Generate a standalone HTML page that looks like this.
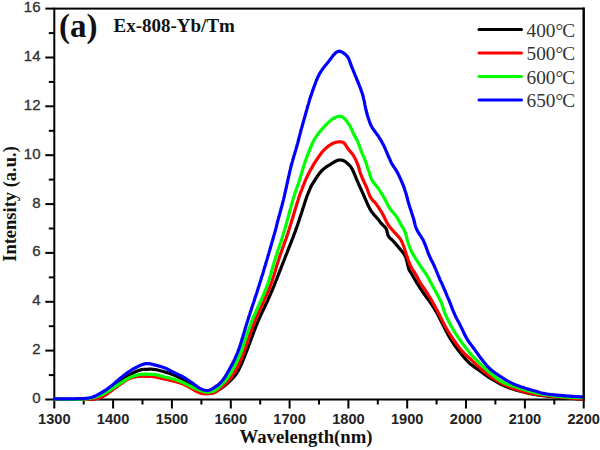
<!DOCTYPE html>
<html><head><meta charset="utf-8"><style>
html,body{margin:0;padding:0;background:#fff;width:600px;height:450px;overflow:hidden}
svg{display:block}
.xt{font-family:"Liberation Sans",sans-serif;font-weight:bold;font-size:14.6px;fill:#222;text-anchor:middle}
.yt{font-family:"Liberation Sans",sans-serif;font-size:15px;fill:#333;stroke:#333;stroke-width:0.35px;text-anchor:end}
.lg{font-family:"Liberation Serif",serif;font-size:19.3px;fill:#333}
.tt{font-family:"Liberation Serif",serif;font-weight:bold;fill:#111}
.cv path{fill:none;stroke-width:3.2;stroke-linejoin:round;stroke-linecap:round}
</style></head><body>
<svg width="600" height="450" viewBox="0 0 600 450">
<rect x="54.3" y="8.6" width="529.4" height="390.9" fill="none" stroke="#000" stroke-width="2"/><line x1="54.3" y1="399.5" x2="54.3" y2="408.5" stroke="#000" stroke-width="2"/><text x="54.3" y="424" class="xt">1300</text><line x1="83.7" y1="399.5" x2="83.7" y2="404.5" stroke="#000" stroke-width="2"/><line x1="113.1" y1="399.5" x2="113.1" y2="408.5" stroke="#000" stroke-width="2"/><text x="113.1" y="424" class="xt">1400</text><line x1="142.5" y1="399.5" x2="142.5" y2="404.5" stroke="#000" stroke-width="2"/><line x1="171.9" y1="399.5" x2="171.9" y2="408.5" stroke="#000" stroke-width="2"/><text x="171.9" y="424" class="xt">1500</text><line x1="201.4" y1="399.5" x2="201.4" y2="404.5" stroke="#000" stroke-width="2"/><line x1="230.8" y1="399.5" x2="230.8" y2="408.5" stroke="#000" stroke-width="2"/><text x="230.8" y="424" class="xt">1600</text><line x1="260.2" y1="399.5" x2="260.2" y2="404.5" stroke="#000" stroke-width="2"/><line x1="289.6" y1="399.5" x2="289.6" y2="408.5" stroke="#000" stroke-width="2"/><text x="289.6" y="424" class="xt">1700</text><line x1="319.0" y1="399.5" x2="319.0" y2="404.5" stroke="#000" stroke-width="2"/><line x1="348.4" y1="399.5" x2="348.4" y2="408.5" stroke="#000" stroke-width="2"/><text x="348.4" y="424" class="xt">1800</text><line x1="377.8" y1="399.5" x2="377.8" y2="404.5" stroke="#000" stroke-width="2"/><line x1="407.2" y1="399.5" x2="407.2" y2="408.5" stroke="#000" stroke-width="2"/><text x="407.2" y="424" class="xt">1900</text><line x1="436.6" y1="399.5" x2="436.6" y2="404.5" stroke="#000" stroke-width="2"/><line x1="466.0" y1="399.5" x2="466.0" y2="408.5" stroke="#000" stroke-width="2"/><text x="466.0" y="424" class="xt">2000</text><line x1="495.4" y1="399.5" x2="495.4" y2="404.5" stroke="#000" stroke-width="2"/><line x1="524.9" y1="399.5" x2="524.9" y2="408.5" stroke="#000" stroke-width="2"/><text x="524.9" y="424" class="xt">2100</text><line x1="554.3" y1="399.5" x2="554.3" y2="404.5" stroke="#000" stroke-width="2"/><line x1="583.7" y1="399.5" x2="583.7" y2="408.5" stroke="#000" stroke-width="2"/><text x="583.7" y="424" class="xt">2200</text><line x1="45.3" y1="399.5" x2="54.3" y2="399.5" stroke="#000" stroke-width="2"/><text x="40.5" y="403.0" class="yt">0</text><line x1="48.8" y1="375.1" x2="54.3" y2="375.1" stroke="#000" stroke-width="2"/><line x1="45.3" y1="350.6" x2="54.3" y2="350.6" stroke="#000" stroke-width="2"/><text x="40.5" y="354.1" class="yt">2</text><line x1="48.8" y1="326.2" x2="54.3" y2="326.2" stroke="#000" stroke-width="2"/><line x1="45.3" y1="301.8" x2="54.3" y2="301.8" stroke="#000" stroke-width="2"/><text x="40.5" y="305.3" class="yt">4</text><line x1="48.8" y1="277.4" x2="54.3" y2="277.4" stroke="#000" stroke-width="2"/><line x1="45.3" y1="252.9" x2="54.3" y2="252.9" stroke="#000" stroke-width="2"/><text x="40.5" y="256.4" class="yt">6</text><line x1="48.8" y1="228.5" x2="54.3" y2="228.5" stroke="#000" stroke-width="2"/><line x1="45.3" y1="204.1" x2="54.3" y2="204.1" stroke="#000" stroke-width="2"/><text x="40.5" y="207.6" class="yt">8</text><line x1="48.8" y1="179.6" x2="54.3" y2="179.6" stroke="#000" stroke-width="2"/><line x1="45.3" y1="155.2" x2="54.3" y2="155.2" stroke="#000" stroke-width="2"/><text x="40.5" y="158.7" class="yt">10</text><line x1="48.8" y1="130.8" x2="54.3" y2="130.8" stroke="#000" stroke-width="2"/><line x1="45.3" y1="106.3" x2="54.3" y2="106.3" stroke="#000" stroke-width="2"/><text x="40.5" y="109.8" class="yt">12</text><line x1="48.8" y1="81.9" x2="54.3" y2="81.9" stroke="#000" stroke-width="2"/><line x1="45.3" y1="57.5" x2="54.3" y2="57.5" stroke="#000" stroke-width="2"/><text x="40.5" y="61.0" class="yt">14</text><line x1="48.8" y1="33.1" x2="54.3" y2="33.1" stroke="#000" stroke-width="2"/><line x1="45.3" y1="8.6" x2="54.3" y2="8.6" stroke="#000" stroke-width="2"/><text x="40.5" y="12.1" class="yt">16</text>
<clipPath id="pc"><rect x="53" y="8" width="530.5" height="395"/></clipPath>
<g class="cv" clip-path="url(#pc)"><path d="M54.5 399.3 L55.2 399.3 L56.0 399.3 L57.0 399.3 L58.0 399.3 L59.0 399.3 L60.0 399.4 L61.0 399.4 L62.0 399.4 L63.0 399.4 L64.0 399.4 L65.0 399.4 L66.0 399.5 L67.0 399.5 L68.0 399.5 L69.0 399.5 L70.0 399.5 L71.0 399.5 L72.0 399.5 L73.0 399.5 L74.0 399.5 L75.0 399.5 L76.0 399.5 L77.0 399.5 L78.0 399.5 L79.0 399.5 L80.0 399.5 L81.0 399.5 L82.0 399.5 L83.0 399.5 L84.0 399.5 L85.0 399.4 L86.0 399.4 L87.0 399.4 L88.0 399.3 L89.0 399.3 L90.0 399.2 L91.0 399.1 L92.0 399.0 L93.0 398.9 L94.0 398.8 L95.0 398.7 L96.0 398.5 L96.9 398.4 L97.9 398.2 L98.9 397.9 L99.8 397.6 L100.8 397.2 L101.7 396.8 L102.6 396.4 L103.4 395.9 L104.3 395.4 L105.1 394.9 L106.0 394.3 L106.8 393.7 L107.6 393.1 L108.3 392.5 L109.1 391.8 L109.8 391.1 L110.5 390.4 L111.2 389.7 L112.0 389.0 L112.7 388.3 L113.3 387.6 L114.0 386.9 L114.7 386.1 L115.4 385.4 L116.1 384.7 L116.8 384.0 L117.5 383.3 L118.3 382.6 L119.0 381.9 L119.7 381.3 L120.5 380.6 L121.3 380.0 L122.1 379.4 L122.9 378.8 L123.7 378.2 L124.5 377.7 L125.4 377.1 L126.2 376.6 L127.1 376.1 L128.0 375.6 L128.8 375.1 L129.7 374.7 L130.6 374.2 L131.5 373.7 L132.4 373.3 L133.3 372.8 L134.2 372.4 L135.1 372.0 L136.0 371.5 L136.9 371.2 L137.8 370.8 L138.8 370.4 L139.7 370.1 L140.7 369.9 L141.7 369.6 L142.6 369.5 L143.6 369.4 L144.6 369.3 L145.6 369.3 L146.6 369.3 L147.6 369.3 L148.6 369.2 L149.6 369.2 L150.6 369.2 L151.6 369.2 L152.6 369.3 L153.6 369.4 L154.6 369.5 L155.6 369.6 L156.6 369.8 L157.6 370.0 L158.5 370.2 L159.5 370.5 L160.5 370.7 L161.4 371.0 L162.4 371.2 L163.4 371.5 L164.3 371.8 L165.3 372.1 L166.2 372.4 L167.2 372.7 L168.2 373.0 L169.1 373.3 L170.0 373.6 L171.0 374.0 L171.9 374.3 L172.9 374.6 L173.8 375.0 L174.7 375.4 L175.6 375.8 L176.6 376.2 L177.5 376.6 L178.4 377.0 L179.3 377.5 L180.2 377.9 L181.1 378.4 L181.9 378.8 L182.8 379.3 L183.7 379.8 L184.6 380.3 L185.4 380.8 L186.3 381.3 L187.1 381.8 L188.0 382.4 L188.8 382.9 L189.6 383.5 L190.4 384.1 L191.3 384.6 L192.1 385.2 L192.9 385.7 L193.8 386.3 L194.6 386.8 L195.5 387.3 L196.4 387.7 L197.3 388.2 L198.2 388.6 L199.1 389.0 L200.0 389.5 L200.9 389.9 L201.8 390.2 L202.8 390.6 L203.7 391.0 L204.6 391.4 L205.6 391.7 L206.5 392.1 L207.4 392.3 L208.4 392.5 L209.4 392.5 L210.4 392.4 L211.4 392.2 L212.3 392.0 L213.3 391.8 L214.3 391.5 L215.2 391.2 L216.2 390.8 L217.1 390.5 L218.0 390.0 L218.9 389.6 L219.8 389.1 L220.6 388.6 L221.4 388.0 L222.3 387.5 L223.1 386.9 L223.9 386.3 L224.7 385.7 L225.4 385.0 L226.2 384.4 L227.0 383.7 L227.7 383.1 L228.5 382.4 L229.2 381.7 L229.9 381.1 L230.6 380.4 L231.3 379.6 L232.0 378.9 L232.7 378.2 L233.4 377.5 L234.1 376.7 L234.7 375.9 L235.3 375.2 L235.9 374.4 L236.5 373.5 L237.0 372.7 L237.5 371.8 L238.1 371.0 L238.5 370.1 L239.0 369.2 L239.5 368.3 L239.9 367.4 L240.3 366.5 L240.8 365.6 L241.2 364.7 L241.6 363.8 L242.0 362.9 L242.3 362.0 L242.7 361.0 L243.1 360.1 L243.5 359.2 L243.8 358.3 L244.2 357.3 L244.6 356.4 L244.9 355.5 L245.3 354.5 L245.7 353.6 L246.0 352.7 L246.4 351.7 L246.8 350.8 L247.1 349.9 L247.5 348.9 L247.8 348.0 L248.2 347.1 L248.5 346.1 L248.9 345.2 L249.2 344.3 L249.6 343.3 L249.9 342.4 L250.3 341.4 L250.6 340.5 L251.0 339.6 L251.3 338.6 L251.7 337.7 L252.0 336.8 L252.4 335.8 L252.7 334.9 L253.1 333.9 L253.4 333.0 L253.8 332.1 L254.1 331.1 L254.5 330.2 L254.8 329.3 L255.2 328.3 L255.6 327.4 L255.9 326.5 L256.3 325.5 L256.7 324.6 L257.0 323.7 L257.4 322.8 L257.8 321.8 L258.2 320.9 L258.6 320.0 L259.0 319.1 L259.4 318.2 L259.8 317.3 L260.2 316.3 L260.6 315.4 L261.1 314.5 L261.5 313.6 L261.9 312.7 L262.3 311.8 L262.8 310.9 L263.2 310.0 L263.6 309.1 L264.1 308.2 L264.5 307.3 L264.9 306.4 L265.3 305.5 L265.8 304.6 L266.2 303.7 L266.6 302.8 L267.0 301.9 L267.5 301.0 L267.9 300.1 L268.3 299.1 L268.7 298.2 L269.1 297.3 L269.5 296.4 L269.9 295.5 L270.3 294.6 L270.7 293.7 L271.1 292.7 L271.5 291.8 L271.9 290.9 L272.3 290.0 L272.6 289.0 L273.0 288.1 L273.4 287.2 L273.8 286.3 L274.2 285.3 L274.5 284.4 L274.9 283.5 L275.3 282.6 L275.6 281.6 L276.0 280.7 L276.4 279.8 L276.8 278.8 L277.1 277.9 L277.5 277.0 L277.8 276.1 L278.2 275.1 L278.6 274.2 L278.9 273.3 L279.3 272.3 L279.7 271.4 L280.0 270.5 L280.4 269.5 L280.8 268.6 L281.1 267.7 L281.5 266.7 L281.8 265.8 L282.2 264.9 L282.6 263.9 L282.9 263.0 L283.3 262.1 L283.7 261.1 L284.0 260.2 L284.4 259.3 L284.8 258.3 L285.1 257.4 L285.5 256.5 L285.9 255.6 L286.2 254.6 L286.6 253.7 L287.0 252.8 L287.3 251.8 L287.7 250.9 L288.1 250.0 L288.4 249.1 L288.8 248.1 L289.2 247.2 L289.5 246.3 L289.9 245.3 L290.3 244.4 L290.6 243.5 L291.0 242.5 L291.4 241.6 L291.7 240.7 L292.1 239.7 L292.5 238.8 L292.8 237.9 L293.2 236.9 L293.5 236.0 L293.9 235.1 L294.2 234.1 L294.6 233.2 L294.9 232.3 L295.3 231.3 L295.6 230.4 L295.9 229.4 L296.3 228.5 L296.6 227.6 L296.9 226.6 L297.3 225.7 L297.6 224.7 L297.9 223.8 L298.2 222.8 L298.6 221.9 L298.9 220.9 L299.2 220.0 L299.5 219.0 L299.8 218.1 L300.1 217.1 L300.4 216.2 L300.7 215.2 L301.1 214.3 L301.4 213.3 L301.7 212.4 L302.0 211.4 L302.3 210.5 L302.6 209.5 L302.9 208.6 L303.2 207.6 L303.5 206.7 L303.8 205.7 L304.1 204.8 L304.4 203.8 L304.7 202.9 L305.0 201.9 L305.4 201.0 L305.7 200.0 L306.0 199.1 L306.3 198.1 L306.6 197.2 L307.0 196.2 L307.3 195.3 L307.7 194.4 L308.1 193.4 L308.5 192.5 L308.8 191.6 L309.2 190.7 L309.6 189.7 L310.0 188.8 L310.4 187.9 L310.8 187.0 L311.2 186.1 L311.7 185.2 L312.2 184.4 L312.8 183.5 L313.3 182.7 L313.8 181.8 L314.4 181.0 L314.9 180.1 L315.4 179.3 L316.0 178.5 L316.5 177.6 L317.1 176.8 L317.6 175.9 L318.2 175.1 L318.8 174.3 L319.4 173.5 L320.0 172.7 L320.7 172.0 L321.3 171.2 L322.0 170.5 L322.7 169.8 L323.5 169.1 L324.2 168.5 L325.0 167.9 L325.8 167.3 L326.7 166.7 L327.5 166.2 L328.3 165.6 L329.2 165.1 L330.0 164.6 L330.9 164.1 L331.7 163.5 L332.6 163.0 L333.4 162.5 L334.3 162.0 L335.2 161.5 L336.1 161.0 L337.0 160.6 L337.9 160.3 L338.9 160.1 L339.8 160.0 L340.8 160.0 L341.8 160.1 L342.8 160.4 L343.7 160.7 L344.5 161.2 L345.4 161.7 L346.2 162.3 L346.9 163.0 L347.7 163.6 L348.4 164.3 L349.1 165.0 L349.8 165.7 L350.5 166.5 L351.1 167.3 L351.6 168.1 L352.1 169.0 L352.6 169.9 L353.0 170.8 L353.4 171.7 L353.8 172.6 L354.2 173.5 L354.6 174.4 L355.0 175.4 L355.4 176.3 L355.7 177.2 L356.1 178.2 L356.5 179.1 L356.9 180.0 L357.3 180.9 L357.7 181.8 L358.1 182.7 L358.5 183.7 L358.9 184.6 L359.3 185.5 L359.7 186.4 L360.1 187.3 L360.5 188.2 L361.0 189.1 L361.4 190.0 L361.8 191.0 L362.2 191.9 L362.6 192.8 L363.0 193.7 L363.4 194.6 L363.8 195.5 L364.2 196.4 L364.6 197.4 L365.0 198.3 L365.4 199.2 L365.8 200.1 L366.2 201.0 L366.6 201.9 L367.0 202.9 L367.4 203.8 L367.8 204.7 L368.3 205.6 L368.7 206.5 L369.2 207.4 L369.6 208.3 L370.1 209.1 L370.6 210.0 L371.1 210.9 L371.6 211.7 L372.2 212.5 L372.8 213.3 L373.5 214.1 L374.1 214.8 L374.8 215.6 L375.5 216.3 L376.2 217.0 L376.8 217.8 L377.5 218.5 L378.1 219.3 L378.7 220.1 L379.3 220.9 L379.9 221.7 L380.5 222.5 L381.2 223.3 L381.8 224.0 L382.5 224.7 L383.2 225.4 L384.0 226.1 L384.7 226.7 L385.4 227.5 L385.9 228.3 L386.4 229.2 L386.7 230.1 L386.9 231.1 L387.1 232.0 L387.4 233.0 L387.6 234.0 L387.9 234.9 L388.3 235.8 L388.8 236.7 L389.4 237.4 L390.1 238.2 L390.9 238.8 L391.6 239.5 L392.3 240.2 L393.0 240.9 L393.7 241.6 L394.4 242.4 L395.0 243.1 L395.7 243.9 L396.3 244.6 L397.0 245.4 L397.6 246.2 L398.3 246.9 L398.9 247.7 L399.5 248.5 L400.2 249.2 L400.8 250.0 L401.5 250.8 L402.1 251.5 L402.7 252.3 L403.3 253.1 L403.9 253.9 L404.4 254.8 L404.9 255.6 L405.4 256.5 L405.8 257.4 L406.1 258.4 L406.4 259.3 L406.6 260.3 L406.9 261.3 L407.1 262.3 L407.3 263.2 L407.5 264.2 L407.8 265.2 L408.0 266.1 L408.3 267.1 L408.5 268.1 L408.8 269.0 L409.2 270.0 L409.6 270.8 L410.2 271.7 L410.7 272.5 L411.3 273.3 L411.8 274.2 L412.3 275.0 L412.8 275.9 L413.3 276.8 L413.8 277.6 L414.3 278.5 L414.8 279.4 L415.3 280.2 L415.8 281.1 L416.3 282.0 L416.8 282.8 L417.3 283.7 L417.9 284.5 L418.4 285.4 L418.9 286.2 L419.5 287.1 L420.0 287.9 L420.5 288.8 L421.1 289.6 L421.7 290.4 L422.2 291.2 L422.8 292.1 L423.4 292.9 L423.9 293.7 L424.5 294.5 L425.1 295.3 L425.7 296.1 L426.3 296.9 L426.9 297.7 L427.5 298.5 L428.1 299.3 L428.7 300.1 L429.3 300.9 L429.8 301.8 L430.4 302.6 L431.0 303.4 L431.5 304.3 L432.1 305.1 L432.6 305.9 L433.1 306.8 L433.7 307.6 L434.2 308.5 L434.7 309.3 L435.2 310.2 L435.7 311.1 L436.2 311.9 L436.7 312.8 L437.2 313.7 L437.7 314.5 L438.2 315.4 L438.6 316.3 L439.1 317.2 L439.6 318.1 L440.0 319.0 L440.5 319.9 L440.9 320.8 L441.4 321.7 L441.8 322.5 L442.3 323.4 L442.7 324.3 L443.2 325.2 L443.6 326.1 L444.1 327.0 L444.5 327.9 L445.0 328.8 L445.4 329.7 L445.9 330.6 L446.3 331.5 L446.8 332.3 L447.3 333.2 L447.8 334.1 L448.2 335.0 L448.7 335.9 L449.2 336.7 L449.7 337.6 L450.2 338.5 L450.7 339.3 L451.3 340.2 L451.8 341.0 L452.3 341.8 L452.9 342.7 L453.4 343.5 L454.0 344.3 L454.6 345.2 L455.2 346.0 L455.7 346.8 L456.3 347.6 L456.9 348.4 L457.5 349.2 L458.1 350.0 L458.7 350.8 L459.3 351.6 L459.9 352.4 L460.6 353.2 L461.2 354.0 L461.8 354.7 L462.5 355.5 L463.1 356.3 L463.7 357.0 L464.4 357.8 L465.1 358.5 L465.7 359.3 L466.4 360.0 L467.1 360.8 L467.8 361.5 L468.5 362.2 L469.2 362.9 L469.9 363.5 L470.7 364.2 L471.5 364.8 L472.3 365.4 L473.1 366.0 L473.9 366.6 L474.7 367.2 L475.5 367.8 L476.3 368.3 L477.2 368.9 L478.0 369.5 L478.8 370.0 L479.6 370.6 L480.4 371.2 L481.2 371.8 L482.0 372.4 L482.8 373.0 L483.6 373.6 L484.4 374.2 L485.3 374.8 L486.1 375.3 L486.9 375.9 L487.7 376.5 L488.6 377.0 L489.4 377.6 L490.2 378.1 L491.1 378.6 L491.9 379.2 L492.8 379.7 L493.6 380.2 L494.5 380.7 L495.4 381.2 L496.2 381.7 L497.1 382.2 L498.0 382.7 L498.9 383.2 L499.7 383.6 L500.6 384.1 L501.5 384.6 L502.4 385.0 L503.3 385.4 L504.2 385.8 L505.1 386.2 L506.1 386.6 L507.0 387.0 L507.9 387.4 L508.9 387.7 L509.8 388.1 L510.7 388.4 L511.7 388.7 L512.6 389.0 L513.6 389.3 L514.6 389.6 L515.5 389.9 L516.5 390.1 L517.4 390.4 L518.4 390.6 L519.4 390.9 L520.3 391.2 L521.3 391.4 L522.3 391.7 L523.2 391.9 L524.2 392.2 L525.2 392.5 L526.1 392.7 L527.1 393.0 L528.1 393.2 L529.1 393.4 L530.0 393.6 L531.0 393.8 L532.0 394.0 L533.0 394.2 L534.0 394.4 L535.0 394.5 L535.9 394.7 L536.9 394.9 L537.9 395.0 L538.9 395.1 L539.9 395.3 L540.9 395.4 L541.9 395.5 L542.9 395.7 L543.9 395.8 L544.9 395.9 L545.9 396.0 L546.9 396.1 L547.8 396.2 L548.8 396.3 L549.8 396.4 L550.8 396.5 L551.8 396.6 L552.8 396.7 L553.8 396.8 L554.8 396.9 L555.8 397.0 L556.8 397.1 L557.8 397.1 L558.8 397.2 L559.8 397.3 L560.8 397.4 L561.8 397.5 L562.8 397.6 L563.8 397.7 L564.8 397.8 L565.8 397.8 L566.8 397.9 L567.8 398.0 L568.8 398.1 L569.8 398.2 L570.8 398.3 L571.7 398.4 L572.7 398.4 L573.7 398.5 L574.7 398.6 L575.7 398.7 L576.7 398.8 L577.7 398.9 L578.7 398.9 L579.7 399.0 L580.7 399.1 L581.7 399.2 L582.5 399.3 L583.2 399.3" stroke="#000" /><path d="M54.5 399.3 L55.2 399.3 L56.0 399.3 L57.0 399.3 L58.0 399.3 L59.0 399.3 L60.0 399.3 L61.0 399.3 L62.0 399.4 L63.0 399.4 L64.0 399.4 L65.0 399.4 L66.0 399.4 L67.0 399.4 L68.0 399.4 L69.0 399.4 L70.0 399.4 L71.0 399.4 L72.0 399.4 L73.0 399.4 L74.0 399.4 L75.0 399.4 L76.0 399.4 L77.0 399.4 L78.0 399.4 L79.0 399.4 L80.0 399.4 L81.0 399.4 L82.0 399.4 L83.0 399.4 L84.0 399.4 L85.0 399.4 L86.0 399.4 L87.0 399.3 L88.0 399.3 L89.0 399.2 L90.0 399.2 L91.0 399.1 L92.0 399.1 L93.0 399.0 L94.0 398.9 L95.0 398.8 L96.0 398.7 L97.0 398.6 L97.9 398.4 L98.9 398.1 L99.8 397.7 L100.7 397.4 L101.7 396.9 L102.6 396.5 L103.4 396.0 L104.3 395.6 L105.2 395.1 L106.0 394.5 L106.9 394.0 L107.7 393.4 L108.5 392.9 L109.3 392.3 L110.2 391.7 L111.0 391.1 L111.8 390.5 L112.6 389.9 L113.4 389.3 L114.2 388.7 L115.0 388.1 L115.8 387.5 L116.6 386.9 L117.4 386.4 L118.2 385.8 L119.0 385.2 L119.8 384.6 L120.7 384.1 L121.5 383.5 L122.3 382.9 L123.1 382.4 L124.0 381.8 L124.8 381.2 L125.6 380.7 L126.5 380.2 L127.3 379.6 L128.2 379.2 L129.1 378.7 L130.0 378.3 L131.0 378.0 L131.9 377.7 L132.9 377.4 L133.8 377.2 L134.8 377.0 L135.8 376.8 L136.8 376.7 L137.8 376.5 L138.8 376.4 L139.8 376.3 L140.8 376.3 L141.8 376.2 L142.8 376.2 L143.8 376.2 L144.8 376.2 L145.8 376.3 L146.8 376.3 L147.8 376.4 L148.8 376.4 L149.8 376.5 L150.8 376.5 L151.7 376.5 L152.7 376.6 L153.7 376.8 L154.7 377.0 L155.7 377.1 L156.7 377.3 L157.7 377.5 L158.6 377.8 L159.6 378.0 L160.6 378.2 L161.6 378.4 L162.5 378.6 L163.5 378.8 L164.5 379.0 L165.5 379.2 L166.4 379.5 L167.4 379.7 L168.4 379.9 L169.4 380.1 L170.3 380.4 L171.3 380.6 L172.3 380.8 L173.3 381.1 L174.2 381.3 L175.2 381.6 L176.2 381.8 L177.1 382.1 L178.1 382.4 L179.0 382.6 L180.0 383.0 L180.9 383.3 L181.9 383.6 L182.8 384.0 L183.7 384.4 L184.6 384.8 L185.5 385.3 L186.4 385.7 L187.3 386.2 L188.2 386.7 L189.0 387.2 L189.9 387.7 L190.8 388.2 L191.6 388.7 L192.5 389.2 L193.4 389.7 L194.2 390.2 L195.1 390.7 L196.0 391.1 L196.9 391.6 L197.8 392.0 L198.7 392.4 L199.6 392.8 L200.6 393.1 L201.5 393.4 L202.5 393.6 L203.5 393.7 L204.5 393.8 L205.5 393.8 L206.5 393.7 L207.5 393.7 L208.5 393.6 L209.5 393.5 L210.5 393.5 L211.5 393.4 L212.4 393.3 L213.4 393.1 L214.3 392.7 L215.2 392.3 L216.1 391.8 L216.9 391.2 L217.7 390.6 L218.5 390.0 L219.3 389.4 L220.0 388.7 L220.8 388.1 L221.5 387.4 L222.3 386.7 L223.0 386.1 L223.8 385.4 L224.5 384.7 L225.2 384.0 L225.9 383.3 L226.7 382.6 L227.3 381.9 L228.0 381.2 L228.7 380.5 L229.3 379.7 L230.0 378.9 L230.6 378.1 L231.2 377.3 L231.8 376.5 L232.4 375.7 L232.9 374.9 L233.5 374.1 L234.0 373.2 L234.5 372.4 L235.1 371.5 L235.6 370.6 L236.0 369.8 L236.5 368.9 L237.0 368.0 L237.4 367.1 L237.9 366.2 L238.3 365.3 L238.8 364.4 L239.2 363.5 L239.6 362.6 L240.0 361.7 L240.4 360.8 L240.8 359.9 L241.2 359.0 L241.6 358.0 L242.0 357.1 L242.4 356.2 L242.8 355.3 L243.1 354.3 L243.5 353.4 L243.8 352.5 L244.2 351.5 L244.5 350.6 L244.9 349.6 L245.2 348.7 L245.5 347.7 L245.8 346.8 L246.1 345.8 L246.4 344.9 L246.8 343.9 L247.1 343.0 L247.4 342.0 L247.7 341.1 L248.0 340.1 L248.3 339.2 L248.7 338.3 L249.0 337.3 L249.3 336.4 L249.7 335.4 L250.0 334.5 L250.3 333.5 L250.6 332.6 L250.9 331.6 L251.3 330.7 L251.6 329.7 L251.9 328.8 L252.3 327.9 L252.6 326.9 L252.9 326.0 L253.3 325.0 L253.7 324.1 L254.0 323.2 L254.4 322.2 L254.8 321.3 L255.1 320.4 L255.5 319.5 L255.9 318.5 L256.3 317.6 L256.7 316.7 L257.1 315.8 L257.5 314.9 L257.9 314.0 L258.3 313.1 L258.7 312.1 L259.1 311.2 L259.6 310.3 L260.0 309.4 L260.4 308.5 L260.8 307.6 L261.2 306.7 L261.7 305.8 L262.1 304.9 L262.5 304.0 L262.9 303.1 L263.3 302.1 L263.7 301.2 L264.1 300.3 L264.6 299.4 L265.0 298.5 L265.4 297.6 L265.8 296.7 L266.2 295.8 L266.6 294.8 L267.0 293.9 L267.4 293.0 L267.8 292.1 L268.2 291.2 L268.6 290.3 L268.9 289.3 L269.3 288.4 L269.7 287.5 L270.1 286.5 L270.4 285.6 L270.8 284.7 L271.1 283.7 L271.4 282.8 L271.8 281.8 L272.1 280.9 L272.4 279.9 L272.7 279.0 L273.0 278.0 L273.3 277.1 L273.6 276.1 L273.9 275.2 L274.2 274.2 L274.5 273.3 L274.8 272.3 L275.1 271.4 L275.4 270.4 L275.6 269.4 L275.9 268.5 L276.2 267.5 L276.5 266.6 L276.8 265.6 L277.1 264.6 L277.4 263.7 L277.7 262.7 L278.0 261.8 L278.3 260.8 L278.6 259.9 L278.9 258.9 L279.2 258.0 L279.5 257.0 L279.9 256.1 L280.2 255.1 L280.5 254.2 L280.8 253.3 L281.2 252.3 L281.5 251.4 L281.8 250.4 L282.2 249.5 L282.5 248.5 L282.8 247.6 L283.2 246.7 L283.5 245.7 L283.9 244.8 L284.2 243.8 L284.5 242.9 L284.9 241.9 L285.2 241.0 L285.5 240.1 L285.9 239.1 L286.2 238.2 L286.5 237.2 L286.8 236.3 L287.2 235.3 L287.5 234.4 L287.8 233.4 L288.1 232.5 L288.4 231.5 L288.7 230.6 L289.0 229.6 L289.3 228.7 L289.6 227.7 L289.9 226.8 L290.2 225.8 L290.5 224.9 L290.8 223.9 L291.1 223.0 L291.4 222.0 L291.7 221.0 L292.0 220.1 L292.3 219.1 L292.6 218.2 L292.9 217.2 L293.2 216.3 L293.4 215.3 L293.7 214.3 L294.0 213.4 L294.3 212.4 L294.6 211.5 L294.9 210.5 L295.1 209.5 L295.4 208.6 L295.7 207.6 L296.0 206.7 L296.3 205.7 L296.6 204.8 L296.9 203.8 L297.2 202.8 L297.5 201.9 L297.8 200.9 L298.1 200.0 L298.4 199.0 L298.7 198.1 L299.0 197.1 L299.3 196.2 L299.6 195.2 L300.0 194.3 L300.3 193.3 L300.7 192.4 L301.0 191.5 L301.4 190.6 L301.8 189.6 L302.1 188.7 L302.5 187.8 L302.8 186.8 L303.2 185.9 L303.5 185.0 L303.9 184.0 L304.3 183.1 L304.7 182.2 L305.0 181.2 L305.4 180.3 L305.8 179.4 L306.2 178.5 L306.7 177.6 L307.1 176.7 L307.5 175.8 L308.0 174.9 L308.4 174.0 L308.9 173.1 L309.3 172.2 L309.8 171.3 L310.3 170.4 L310.7 169.6 L311.2 168.7 L311.7 167.8 L312.2 167.0 L312.7 166.1 L313.2 165.2 L313.7 164.4 L314.3 163.5 L314.8 162.7 L315.3 161.8 L315.8 161.0 L316.4 160.1 L316.9 159.3 L317.5 158.5 L318.1 157.6 L318.6 156.8 L319.2 156.0 L319.8 155.2 L320.4 154.4 L321.0 153.6 L321.6 152.8 L322.2 152.0 L322.9 151.2 L323.5 150.5 L324.2 149.8 L324.9 149.1 L325.7 148.4 L326.4 147.8 L327.2 147.1 L328.0 146.5 L328.8 145.9 L329.6 145.3 L330.4 144.8 L331.3 144.2 L332.1 143.8 L333.0 143.3 L334.0 142.9 L334.9 142.6 L335.9 142.3 L336.8 142.1 L337.8 142.0 L338.8 141.9 L339.8 141.8 L340.8 141.9 L341.8 142.0 L342.7 142.2 L343.6 142.7 L344.3 143.3 L345.0 144.0 L345.5 144.8 L346.1 145.7 L346.6 146.5 L347.1 147.4 L347.7 148.2 L348.3 149.0 L348.9 149.8 L349.5 150.6 L350.2 151.3 L350.8 152.1 L351.5 152.9 L352.1 153.6 L352.7 154.4 L353.2 155.3 L353.8 156.1 L354.3 157.0 L354.8 157.8 L355.2 158.7 L355.7 159.6 L356.1 160.5 L356.5 161.4 L356.9 162.4 L357.3 163.3 L357.6 164.2 L358.0 165.2 L358.3 166.1 L358.6 167.1 L358.9 168.0 L359.1 169.0 L359.4 170.0 L359.7 170.9 L360.0 171.9 L360.3 172.8 L360.6 173.8 L361.0 174.7 L361.3 175.6 L361.7 176.6 L362.0 177.5 L362.4 178.4 L362.8 179.3 L363.3 180.2 L363.7 181.2 L364.1 182.1 L364.5 183.0 L365.0 183.9 L365.4 184.8 L365.8 185.7 L366.2 186.6 L366.6 187.5 L367.0 188.4 L367.4 189.4 L367.7 190.3 L368.1 191.2 L368.4 192.2 L368.7 193.1 L369.1 194.1 L369.4 195.0 L369.8 195.9 L370.3 196.8 L370.8 197.7 L371.3 198.5 L371.9 199.3 L372.6 200.1 L373.2 200.8 L373.9 201.5 L374.6 202.2 L375.3 202.9 L376.0 203.7 L376.6 204.5 L377.1 205.3 L377.7 206.1 L378.3 207.0 L378.8 207.8 L379.4 208.6 L379.9 209.5 L380.4 210.3 L381.0 211.2 L381.5 212.0 L382.0 212.9 L382.5 213.8 L382.9 214.7 L383.4 215.5 L383.9 216.4 L384.3 217.3 L384.7 218.2 L385.2 219.1 L385.6 220.0 L386.1 220.9 L386.5 221.8 L387.0 222.7 L387.5 223.6 L388.0 224.4 L388.5 225.3 L389.1 226.1 L389.7 226.9 L390.3 227.6 L391.0 228.4 L391.6 229.2 L392.3 229.9 L393.0 230.6 L393.6 231.4 L394.3 232.1 L395.0 232.9 L395.7 233.6 L396.3 234.3 L397.0 235.1 L397.7 235.8 L398.4 236.6 L399.0 237.3 L399.6 238.1 L400.2 238.9 L400.8 239.7 L401.3 240.6 L401.7 241.5 L402.1 242.4 L402.5 243.3 L402.9 244.2 L403.3 245.2 L403.6 246.1 L404.0 247.1 L404.3 248.0 L404.6 248.9 L404.9 249.9 L405.2 250.8 L405.5 251.8 L405.8 252.8 L406.1 253.7 L406.4 254.7 L406.7 255.6 L407.0 256.6 L407.3 257.5 L407.6 258.5 L408.0 259.4 L408.3 260.4 L408.6 261.3 L409.0 262.2 L409.3 263.2 L409.7 264.1 L410.1 265.0 L410.5 265.9 L411.0 266.8 L411.5 267.7 L412.0 268.5 L412.5 269.4 L413.1 270.2 L413.6 271.1 L414.2 271.9 L414.7 272.7 L415.2 273.6 L415.7 274.4 L416.2 275.3 L416.7 276.2 L417.2 277.1 L417.6 278.0 L418.0 278.9 L418.5 279.8 L418.9 280.7 L419.4 281.5 L420.0 282.4 L420.5 283.2 L421.1 284.1 L421.6 284.9 L422.2 285.7 L422.8 286.5 L423.3 287.4 L423.9 288.2 L424.5 289.0 L425.0 289.8 L425.6 290.7 L426.1 291.5 L426.7 292.3 L427.2 293.2 L427.7 294.0 L428.2 294.9 L428.8 295.7 L429.3 296.6 L429.8 297.4 L430.3 298.3 L430.8 299.2 L431.3 300.0 L431.9 300.9 L432.4 301.8 L432.9 302.6 L433.3 303.5 L433.8 304.4 L434.3 305.2 L434.8 306.1 L435.3 307.0 L435.8 307.9 L436.2 308.8 L436.7 309.6 L437.2 310.5 L437.6 311.4 L438.1 312.3 L438.6 313.2 L439.0 314.1 L439.5 315.0 L439.9 315.8 L440.4 316.7 L440.8 317.6 L441.2 318.5 L441.7 319.4 L442.1 320.3 L442.5 321.2 L443.0 322.1 L443.4 323.0 L443.9 323.9 L444.3 324.8 L444.8 325.7 L445.3 326.6 L445.8 327.4 L446.3 328.3 L446.8 329.2 L447.3 330.0 L447.8 330.9 L448.3 331.7 L448.9 332.6 L449.4 333.4 L449.9 334.3 L450.5 335.1 L451.0 336.0 L451.6 336.8 L452.1 337.6 L452.7 338.5 L453.3 339.3 L453.8 340.1 L454.4 340.9 L455.0 341.7 L455.6 342.6 L456.1 343.4 L456.7 344.2 L457.3 345.0 L457.9 345.8 L458.5 346.6 L459.1 347.4 L459.7 348.2 L460.4 349.0 L461.0 349.7 L461.6 350.5 L462.3 351.3 L462.9 352.0 L463.6 352.7 L464.3 353.4 L465.0 354.1 L465.8 354.8 L466.5 355.5 L467.3 356.2 L468.0 356.8 L468.8 357.5 L469.5 358.1 L470.2 358.8 L471.0 359.5 L471.7 360.2 L472.4 360.9 L473.2 361.6 L473.9 362.3 L474.6 363.0 L475.3 363.7 L476.0 364.4 L476.8 365.0 L477.5 365.7 L478.2 366.4 L479.0 367.1 L479.7 367.7 L480.5 368.4 L481.2 369.0 L482.0 369.7 L482.7 370.4 L483.5 371.0 L484.3 371.6 L485.0 372.3 L485.8 372.9 L486.6 373.5 L487.4 374.2 L488.2 374.8 L489.0 375.4 L489.8 375.9 L490.6 376.5 L491.4 377.1 L492.3 377.6 L493.1 378.2 L493.9 378.7 L494.8 379.3 L495.6 379.8 L496.5 380.3 L497.3 380.8 L498.2 381.3 L499.1 381.8 L499.9 382.3 L500.8 382.8 L501.7 383.3 L502.6 383.8 L503.5 384.2 L504.4 384.7 L505.2 385.1 L506.2 385.5 L507.1 386.0 L508.0 386.4 L508.9 386.8 L509.8 387.2 L510.7 387.5 L511.7 387.9 L512.6 388.3 L513.5 388.6 L514.5 388.9 L515.4 389.2 L516.4 389.5 L517.3 389.8 L518.3 390.1 L519.3 390.4 L520.2 390.7 L521.2 390.9 L522.2 391.2 L523.1 391.5 L524.1 391.7 L525.0 392.0 L526.0 392.2 L527.0 392.5 L528.0 392.7 L528.9 392.9 L529.9 393.2 L530.9 393.4 L531.9 393.6 L532.8 393.8 L533.8 393.9 L534.8 394.1 L535.8 394.3 L536.8 394.4 L537.8 394.6 L538.8 394.7 L539.8 394.9 L540.7 395.0 L541.7 395.1 L542.7 395.3 L543.7 395.4 L544.7 395.5 L545.7 395.6 L546.7 395.7 L547.7 395.8 L548.7 395.9 L549.7 396.0 L550.7 396.1 L551.7 396.2 L552.7 396.3 L553.7 396.5 L554.7 396.6 L555.7 396.6 L556.7 396.7 L557.6 396.8 L558.6 396.9 L559.6 397.0 L560.6 397.1 L561.6 397.2 L562.6 397.3 L563.6 397.4 L564.6 397.5 L565.6 397.6 L566.6 397.7 L567.6 397.8 L568.6 397.9 L569.6 398.0 L570.6 398.1 L571.6 398.2 L572.6 398.2 L573.6 398.3 L574.6 398.4 L575.6 398.5 L576.6 398.6 L577.6 398.7 L578.6 398.8 L579.6 398.9 L580.5 399.0 L581.5 399.1 L582.4 399.1 L583.0 399.2" stroke="#ff0000" /><path d="M54.5 399.1 L55.2 399.1 L56.0 399.1 L57.0 399.1 L58.0 399.1 L59.0 399.1 L60.0 399.2 L61.0 399.2 L62.0 399.2 L63.0 399.2 L64.0 399.2 L65.0 399.2 L66.0 399.2 L67.0 399.3 L68.0 399.3 L69.0 399.3 L70.0 399.3 L71.0 399.3 L72.0 399.3 L73.0 399.3 L74.0 399.3 L75.0 399.3 L76.0 399.3 L77.0 399.3 L78.0 399.3 L79.0 399.2 L80.0 399.2 L81.0 399.2 L82.0 399.2 L83.0 399.1 L84.0 399.1 L85.0 399.0 L86.0 398.9 L87.0 398.8 L88.0 398.7 L89.0 398.6 L90.0 398.4 L90.9 398.2 L91.9 398.0 L92.9 397.8 L93.9 397.6 L94.8 397.3 L95.8 397.0 L96.7 396.7 L97.7 396.3 L98.6 396.0 L99.5 395.7 L100.5 395.3 L101.4 394.9 L102.3 394.5 L103.2 394.1 L104.1 393.6 L105.0 393.1 L105.8 392.6 L106.7 392.1 L107.5 391.5 L108.4 391.0 L109.2 390.5 L110.1 390.0 L110.9 389.4 L111.8 388.9 L112.6 388.4 L113.4 387.8 L114.3 387.3 L115.1 386.7 L115.9 386.2 L116.8 385.6 L117.6 385.0 L118.4 384.5 L119.3 384.0 L120.1 383.4 L121.0 382.9 L121.8 382.3 L122.7 381.8 L123.5 381.3 L124.3 380.7 L125.2 380.2 L126.0 379.7 L126.9 379.1 L127.8 378.7 L128.6 378.2 L129.5 377.7 L130.4 377.3 L131.4 376.9 L132.3 376.6 L133.2 376.2 L134.2 375.9 L135.1 375.6 L136.1 375.3 L137.1 375.1 L138.0 374.9 L139.0 374.7 L140.0 374.5 L141.0 374.4 L142.0 374.3 L143.0 374.3 L144.0 374.2 L145.0 374.2 L146.0 374.2 L147.0 374.2 L148.0 374.3 L149.0 374.3 L150.0 374.3 L151.0 374.3 L152.0 374.3 L153.0 374.3 L154.0 374.4 L155.0 374.5 L156.0 374.7 L156.9 374.9 L157.9 375.2 L158.9 375.4 L159.8 375.6 L160.8 375.9 L161.8 376.2 L162.7 376.4 L163.7 376.7 L164.7 376.9 L165.6 377.2 L166.6 377.4 L167.6 377.6 L168.6 377.8 L169.5 378.1 L170.5 378.3 L171.5 378.5 L172.5 378.8 L173.4 379.0 L174.4 379.3 L175.3 379.6 L176.3 379.9 L177.2 380.3 L178.2 380.6 L179.1 381.0 L180.0 381.4 L180.9 381.7 L181.9 382.1 L182.8 382.5 L183.7 382.9 L184.6 383.3 L185.5 383.8 L186.4 384.2 L187.3 384.6 L188.2 385.1 L189.1 385.6 L190.0 386.0 L190.9 386.5 L191.8 386.9 L192.6 387.4 L193.5 387.8 L194.5 388.2 L195.4 388.6 L196.3 389.0 L197.2 389.4 L198.2 389.7 L199.1 390.1 L200.0 390.4 L201.0 390.7 L201.9 391.0 L202.9 391.4 L203.8 391.6 L204.8 391.9 L205.8 392.1 L206.7 392.2 L207.7 392.2 L208.7 392.1 L209.7 392.0 L210.7 391.8 L211.7 391.6 L212.6 391.4 L213.6 391.1 L214.5 390.7 L215.3 390.2 L216.2 389.6 L216.9 389.0 L217.7 388.3 L218.4 387.7 L219.1 386.9 L219.8 386.2 L220.5 385.5 L221.2 384.8 L221.9 384.1 L222.7 383.4 L223.4 382.7 L224.1 382.0 L224.8 381.3 L225.5 380.6 L226.1 379.8 L226.7 379.0 L227.3 378.2 L227.9 377.4 L228.4 376.6 L229.0 375.7 L229.5 374.9 L230.0 374.0 L230.5 373.2 L231.0 372.3 L231.6 371.4 L232.1 370.6 L232.6 369.7 L233.1 368.8 L233.5 368.0 L234.0 367.1 L234.5 366.2 L235.0 365.3 L235.4 364.4 L235.9 363.6 L236.3 362.7 L236.8 361.8 L237.2 360.9 L237.6 360.0 L238.1 359.0 L238.5 358.1 L238.9 357.2 L239.3 356.3 L239.6 355.4 L240.0 354.5 L240.4 353.5 L240.8 352.6 L241.1 351.7 L241.5 350.7 L241.8 349.8 L242.1 348.8 L242.4 347.9 L242.8 346.9 L243.1 346.0 L243.4 345.0 L243.7 344.1 L244.0 343.1 L244.3 342.2 L244.6 341.2 L244.9 340.3 L245.2 339.3 L245.5 338.4 L245.8 337.4 L246.1 336.5 L246.5 335.5 L246.8 334.6 L247.1 333.6 L247.5 332.7 L247.8 331.8 L248.1 330.8 L248.5 329.9 L248.8 328.9 L249.1 328.0 L249.5 327.1 L249.9 326.1 L250.2 325.2 L250.6 324.3 L250.9 323.3 L251.3 322.4 L251.7 321.5 L252.1 320.5 L252.5 319.6 L252.8 318.7 L253.2 317.8 L253.6 316.9 L254.0 315.9 L254.4 315.0 L254.8 314.1 L255.2 313.2 L255.6 312.3 L256.0 311.4 L256.5 310.5 L256.9 309.5 L257.3 308.6 L257.7 307.7 L258.1 306.8 L258.5 305.9 L258.9 305.0 L259.3 304.1 L259.7 303.2 L260.1 302.2 L260.6 301.3 L261.0 300.4 L261.4 299.5 L261.8 298.6 L262.2 297.7 L262.6 296.8 L263.0 295.8 L263.4 294.9 L263.8 294.0 L264.1 293.1 L264.5 292.2 L264.9 291.2 L265.3 290.3 L265.7 289.4 L266.0 288.4 L266.4 287.5 L266.7 286.6 L267.1 285.6 L267.4 284.7 L267.8 283.8 L268.1 282.8 L268.4 281.9 L268.7 280.9 L269.0 280.0 L269.3 279.0 L269.6 278.1 L269.9 277.1 L270.2 276.1 L270.5 275.2 L270.8 274.2 L271.0 273.3 L271.3 272.3 L271.6 271.3 L271.8 270.4 L272.1 269.4 L272.4 268.4 L272.7 267.5 L272.9 266.5 L273.2 265.6 L273.5 264.6 L273.7 263.6 L274.0 262.7 L274.3 261.7 L274.6 260.8 L274.9 259.8 L275.2 258.9 L275.5 257.9 L275.8 257.0 L276.1 256.0 L276.4 255.1 L276.8 254.1 L277.1 253.2 L277.4 252.2 L277.7 251.3 L278.0 250.3 L278.3 249.4 L278.7 248.4 L279.0 247.5 L279.3 246.5 L279.6 245.6 L279.9 244.6 L280.3 243.7 L280.6 242.7 L280.9 241.8 L281.2 240.8 L281.5 239.9 L281.8 238.9 L282.1 238.0 L282.4 237.0 L282.7 236.1 L283.0 235.1 L283.3 234.2 L283.6 233.2 L283.9 232.2 L284.2 231.3 L284.5 230.3 L284.8 229.4 L285.0 228.4 L285.3 227.4 L285.6 226.5 L285.9 225.5 L286.1 224.6 L286.4 223.6 L286.7 222.6 L286.9 221.7 L287.2 220.7 L287.4 219.7 L287.7 218.8 L288.0 217.8 L288.2 216.8 L288.5 215.9 L288.7 214.9 L289.0 213.9 L289.3 213.0 L289.5 212.0 L289.8 211.0 L290.0 210.1 L290.3 209.1 L290.6 208.1 L290.8 207.2 L291.1 206.2 L291.4 205.3 L291.6 204.3 L291.9 203.3 L292.2 202.4 L292.4 201.4 L292.7 200.4 L293.0 199.5 L293.3 198.5 L293.6 197.6 L293.9 196.6 L294.2 195.7 L294.5 194.7 L294.8 193.8 L295.1 192.8 L295.4 191.9 L295.8 190.9 L296.1 190.0 L296.4 189.0 L296.7 188.1 L297.1 187.1 L297.4 186.2 L297.7 185.2 L298.1 184.3 L298.4 183.4 L298.7 182.4 L299.0 181.5 L299.3 180.5 L299.6 179.6 L299.9 178.6 L300.2 177.7 L300.5 176.7 L300.8 175.7 L301.1 174.8 L301.4 173.8 L301.7 172.9 L302.0 171.9 L302.2 170.9 L302.5 170.0 L302.8 169.0 L303.1 168.1 L303.4 167.1 L303.7 166.2 L304.0 165.2 L304.3 164.3 L304.6 163.3 L304.9 162.3 L305.2 161.4 L305.5 160.5 L305.9 159.5 L306.2 158.6 L306.6 157.6 L306.9 156.7 L307.3 155.8 L307.6 154.8 L308.0 153.9 L308.3 153.0 L308.7 152.0 L309.1 151.1 L309.5 150.2 L309.8 149.3 L310.2 148.3 L310.6 147.4 L311.0 146.5 L311.4 145.6 L311.8 144.7 L312.2 143.7 L312.6 142.8 L313.0 141.9 L313.5 141.0 L313.9 140.1 L314.4 139.3 L314.9 138.4 L315.5 137.6 L316.0 136.7 L316.6 135.9 L317.2 135.1 L317.8 134.3 L318.4 133.5 L319.0 132.7 L319.6 131.9 L320.3 131.2 L320.9 130.4 L321.6 129.7 L322.2 128.9 L322.9 128.2 L323.6 127.4 L324.3 126.7 L325.0 126.0 L325.6 125.2 L326.3 124.5 L327.0 123.8 L327.7 123.1 L328.5 122.4 L329.2 121.7 L329.9 121.1 L330.7 120.4 L331.5 119.8 L332.3 119.2 L333.1 118.7 L334.0 118.1 L334.8 117.6 L335.7 117.2 L336.7 116.8 L337.6 116.5 L338.6 116.4 L339.6 116.3 L340.6 116.4 L341.5 116.6 L342.4 116.9 L343.2 117.5 L344.0 118.1 L344.7 118.8 L345.3 119.5 L346.0 120.3 L346.6 121.1 L347.2 121.9 L347.8 122.7 L348.4 123.5 L348.9 124.3 L349.5 125.2 L350.0 126.0 L350.5 126.9 L350.9 127.8 L351.3 128.7 L351.7 129.6 L352.1 130.6 L352.4 131.5 L352.8 132.4 L353.2 133.3 L353.7 134.2 L354.1 135.1 L354.6 136.0 L355.2 136.8 L355.7 137.7 L356.2 138.6 L356.7 139.4 L357.1 140.3 L357.5 141.2 L357.9 142.2 L358.3 143.1 L358.6 144.0 L359.0 145.0 L359.3 145.9 L359.7 146.8 L360.0 147.8 L360.3 148.7 L360.7 149.7 L361.0 150.6 L361.4 151.5 L361.8 152.5 L362.2 153.4 L362.6 154.3 L363.0 155.2 L363.4 156.1 L363.8 157.0 L364.2 158.0 L364.6 158.9 L364.9 159.8 L365.3 160.7 L365.6 161.7 L366.0 162.6 L366.3 163.6 L366.6 164.5 L366.9 165.5 L367.2 166.4 L367.5 167.4 L367.8 168.3 L368.1 169.3 L368.4 170.2 L368.8 171.2 L369.1 172.1 L369.4 173.1 L369.7 174.0 L369.9 175.0 L370.2 175.9 L370.6 176.9 L370.9 177.8 L371.3 178.8 L371.7 179.7 L372.2 180.5 L372.7 181.4 L373.3 182.2 L373.9 183.0 L374.5 183.8 L375.2 184.5 L375.8 185.3 L376.5 186.1 L377.1 186.8 L377.7 187.6 L378.3 188.4 L378.9 189.3 L379.4 190.1 L380.0 190.9 L380.5 191.8 L381.0 192.6 L381.6 193.5 L382.1 194.3 L382.6 195.2 L383.1 196.0 L383.6 196.9 L384.1 197.8 L384.6 198.6 L385.1 199.5 L385.5 200.4 L386.0 201.3 L386.4 202.2 L386.9 203.1 L387.3 204.0 L387.8 204.9 L388.2 205.8 L388.7 206.6 L389.2 207.5 L389.8 208.3 L390.3 209.2 L390.9 210.0 L391.6 210.7 L392.2 211.5 L392.9 212.2 L393.6 213.0 L394.2 213.7 L394.8 214.5 L395.4 215.3 L396.0 216.1 L396.6 216.9 L397.2 217.7 L397.7 218.6 L398.2 219.4 L398.7 220.3 L399.2 221.2 L399.6 222.1 L400.1 223.0 L400.5 223.9 L401.0 224.8 L401.5 225.6 L402.0 226.5 L402.6 227.3 L403.1 228.2 L403.6 229.0 L404.1 229.9 L404.5 230.8 L404.9 231.7 L405.3 232.6 L405.6 233.6 L405.9 234.5 L406.2 235.5 L406.4 236.5 L406.7 237.4 L406.9 238.4 L407.1 239.4 L407.4 240.3 L407.7 241.3 L408.0 242.3 L408.3 243.2 L408.6 244.2 L408.9 245.1 L409.3 246.0 L409.6 247.0 L410.0 247.9 L410.3 248.8 L410.7 249.8 L411.2 250.7 L411.6 251.6 L412.0 252.5 L412.5 253.3 L413.0 254.2 L413.5 255.1 L414.0 256.0 L414.5 256.8 L415.0 257.7 L415.6 258.5 L416.1 259.4 L416.6 260.2 L417.2 261.1 L417.7 261.9 L418.3 262.7 L418.8 263.6 L419.4 264.4 L419.9 265.2 L420.5 266.0 L421.1 266.9 L421.6 267.7 L422.2 268.5 L422.8 269.3 L423.3 270.2 L423.9 271.0 L424.5 271.8 L425.1 272.6 L425.7 273.4 L426.2 274.2 L426.7 275.1 L427.2 276.0 L427.7 276.8 L428.2 277.7 L428.7 278.6 L429.2 279.5 L429.6 280.3 L430.1 281.2 L430.6 282.1 L431.0 283.0 L431.5 283.9 L432.0 284.8 L432.5 285.6 L432.9 286.5 L433.4 287.4 L433.9 288.3 L434.4 289.2 L434.8 290.0 L435.3 290.9 L435.8 291.8 L436.3 292.7 L436.7 293.6 L437.2 294.4 L437.7 295.3 L438.1 296.2 L438.6 297.1 L439.0 298.0 L439.5 298.9 L439.9 299.8 L440.4 300.7 L440.8 301.6 L441.2 302.5 L441.6 303.4 L442.0 304.4 L442.3 305.3 L442.6 306.2 L442.9 307.2 L443.2 308.1 L443.5 309.1 L443.8 310.1 L444.1 311.0 L444.4 312.0 L444.8 312.9 L445.1 313.8 L445.5 314.7 L445.9 315.7 L446.4 316.6 L446.8 317.5 L447.2 318.4 L447.6 319.3 L448.1 320.2 L448.5 321.1 L449.0 322.0 L449.4 322.9 L449.9 323.7 L450.4 324.6 L450.8 325.5 L451.3 326.4 L451.8 327.3 L452.3 328.1 L452.8 329.0 L453.3 329.9 L453.8 330.7 L454.3 331.6 L454.8 332.4 L455.4 333.3 L455.9 334.1 L456.5 334.9 L457.0 335.8 L457.6 336.6 L458.2 337.4 L458.7 338.2 L459.3 339.1 L459.9 339.9 L460.5 340.7 L461.0 341.5 L461.6 342.3 L462.2 343.1 L462.8 343.9 L463.4 344.7 L464.0 345.5 L464.6 346.3 L465.2 347.1 L465.8 347.9 L466.4 348.7 L467.1 349.5 L467.7 350.3 L468.3 351.1 L468.9 351.8 L469.6 352.6 L470.2 353.3 L470.9 354.1 L471.6 354.8 L472.2 355.6 L472.9 356.3 L473.6 357.1 L474.3 357.8 L475.0 358.5 L475.7 359.2 L476.4 359.9 L477.1 360.7 L477.8 361.4 L478.5 362.1 L479.2 362.8 L479.9 363.5 L480.6 364.2 L481.3 364.9 L482.0 365.6 L482.8 366.3 L483.5 367.0 L484.2 367.6 L485.0 368.3 L485.7 369.0 L486.4 369.7 L487.2 370.3 L488.0 371.0 L488.7 371.6 L489.5 372.3 L490.2 372.9 L491.0 373.6 L491.7 374.2 L492.5 374.9 L493.3 375.5 L494.0 376.2 L494.8 376.8 L495.6 377.4 L496.4 378.0 L497.2 378.6 L498.0 379.2 L498.8 379.8 L499.6 380.3 L500.5 380.9 L501.4 381.4 L502.2 381.9 L503.1 382.3 L504.0 382.8 L504.9 383.2 L505.8 383.6 L506.8 383.9 L507.7 384.3 L508.7 384.6 L509.6 385.0 L510.5 385.3 L511.5 385.6 L512.4 385.9 L513.4 386.2 L514.3 386.5 L515.3 386.8 L516.2 387.1 L517.2 387.5 L518.1 387.8 L519.1 388.1 L520.0 388.4 L521.0 388.7 L522.0 389.0 L522.9 389.3 L523.9 389.6 L524.8 389.8 L525.8 390.1 L526.8 390.4 L527.7 390.6 L528.7 390.9 L529.6 391.2 L530.6 391.5 L531.6 391.8 L532.5 392.0 L533.5 392.3 L534.4 392.6 L535.4 392.8 L536.4 393.1 L537.4 393.3 L538.3 393.5 L539.3 393.7 L540.3 393.8 L541.3 394.0 L542.3 394.2 L543.3 394.4 L544.3 394.5 L545.2 394.7 L546.2 394.8 L547.2 395.0 L548.2 395.1 L549.2 395.3 L550.2 395.4 L551.2 395.5 L552.2 395.7 L553.2 395.8 L554.2 395.9 L555.1 396.1 L556.1 396.2 L557.1 396.3 L558.1 396.4 L559.1 396.5 L560.1 396.6 L561.1 396.7 L562.1 396.8 L563.1 396.9 L564.1 397.0 L565.1 397.0 L566.1 397.1 L567.1 397.2 L568.1 397.2 L569.1 397.3 L570.1 397.3 L571.1 397.4 L572.1 397.4 L573.1 397.4 L574.1 397.5 L575.1 397.5 L576.1 397.5 L577.1 397.6 L578.1 397.6 L579.1 397.6 L580.1 397.7 L581.1 397.7 L582.0 397.7 L582.8 397.8" stroke="#00ff00" /><path d="M54.5 398.9 L55.2 398.9 L56.0 398.9 L57.0 398.9 L58.0 398.9 L59.0 398.9 L60.0 398.9 L61.0 398.9 L62.0 398.9 L63.0 398.9 L64.0 398.9 L65.0 398.9 L66.0 398.9 L67.0 398.9 L68.0 398.9 L69.0 398.9 L70.0 398.9 L71.0 398.9 L72.0 398.9 L73.0 398.8 L74.0 398.8 L75.0 398.8 L76.0 398.8 L77.0 398.7 L78.0 398.7 L79.0 398.7 L80.0 398.7 L81.0 398.6 L82.0 398.6 L83.0 398.6 L84.0 398.5 L85.0 398.4 L86.0 398.4 L87.0 398.3 L88.0 398.1 L89.0 398.0 L89.9 397.8 L90.9 397.6 L91.9 397.3 L92.8 397.0 L93.8 396.6 L94.7 396.2 L95.6 395.8 L96.5 395.4 L97.4 394.9 L98.3 394.5 L99.1 394.0 L100.0 393.5 L100.9 393.0 L101.7 392.5 L102.6 392.0 L103.5 391.5 L104.3 390.9 L105.1 390.4 L106.0 389.8 L106.8 389.3 L107.6 388.7 L108.4 388.1 L109.2 387.5 L110.0 386.9 L110.8 386.3 L111.6 385.7 L112.4 385.1 L113.2 384.4 L113.9 383.8 L114.7 383.1 L115.4 382.4 L116.2 381.8 L116.9 381.1 L117.7 380.5 L118.4 379.8 L119.2 379.2 L120.0 378.5 L120.7 377.9 L121.5 377.3 L122.3 376.7 L123.1 376.0 L123.9 375.4 L124.7 374.8 L125.5 374.2 L126.3 373.6 L127.1 373.0 L127.9 372.4 L128.7 371.9 L129.5 371.3 L130.4 370.8 L131.2 370.2 L132.1 369.7 L132.9 369.2 L133.8 368.7 L134.7 368.2 L135.5 367.7 L136.4 367.3 L137.3 366.8 L138.2 366.4 L139.1 365.9 L140.0 365.5 L140.9 365.1 L141.9 364.7 L142.8 364.4 L143.7 364.1 L144.7 363.8 L145.7 363.7 L146.7 363.6 L147.7 363.6 L148.7 363.6 L149.7 363.8 L150.6 363.9 L151.6 364.1 L152.6 364.4 L153.6 364.6 L154.5 364.9 L155.5 365.1 L156.5 365.4 L157.4 365.6 L158.4 365.9 L159.4 366.1 L160.3 366.4 L161.3 366.7 L162.2 367.0 L163.2 367.3 L164.1 367.7 L165.1 368.0 L166.0 368.4 L166.9 368.8 L167.8 369.3 L168.7 369.7 L169.6 370.2 L170.5 370.6 L171.3 371.1 L172.2 371.6 L173.1 372.0 L174.0 372.5 L174.9 372.9 L175.8 373.4 L176.7 373.8 L177.6 374.2 L178.5 374.7 L179.4 375.1 L180.3 375.5 L181.2 376.0 L182.1 376.4 L183.0 376.9 L183.9 377.4 L184.7 377.9 L185.6 378.4 L186.4 378.9 L187.3 379.5 L188.1 380.0 L188.9 380.6 L189.7 381.2 L190.5 381.8 L191.3 382.3 L192.2 382.9 L193.0 383.5 L193.8 384.1 L194.6 384.7 L195.4 385.3 L196.2 385.9 L197.0 386.5 L197.8 387.1 L198.6 387.6 L199.5 388.2 L200.4 388.6 L201.3 389.1 L202.2 389.4 L203.1 389.8 L204.1 390.1 L205.0 390.3 L206.0 390.5 L207.0 390.6 L208.0 390.5 L208.9 390.3 L209.9 390.0 L210.8 389.6 L211.7 389.2 L212.5 388.7 L213.4 388.1 L214.2 387.6 L215.0 387.0 L215.8 386.4 L216.7 385.8 L217.5 385.3 L218.3 384.7 L219.1 384.1 L219.8 383.4 L220.5 382.7 L221.2 382.0 L221.9 381.2 L222.5 380.4 L223.1 379.6 L223.7 378.8 L224.2 378.0 L224.8 377.1 L225.3 376.3 L225.8 375.5 L226.4 374.6 L226.9 373.7 L227.4 372.9 L227.9 372.0 L228.4 371.1 L228.9 370.3 L229.4 369.4 L229.8 368.5 L230.3 367.7 L230.8 366.8 L231.3 365.9 L231.8 365.0 L232.2 364.1 L232.7 363.2 L233.1 362.4 L233.6 361.5 L234.0 360.6 L234.5 359.7 L234.9 358.8 L235.3 357.9 L235.7 357.0 L236.1 356.0 L236.5 355.1 L236.9 354.2 L237.3 353.3 L237.7 352.3 L238.0 351.4 L238.4 350.5 L238.7 349.5 L239.1 348.6 L239.4 347.6 L239.7 346.7 L240.0 345.7 L240.3 344.8 L240.6 343.8 L240.9 342.9 L241.2 341.9 L241.5 341.0 L241.8 340.0 L242.1 339.1 L242.4 338.1 L242.7 337.1 L242.9 336.2 L243.2 335.2 L243.5 334.3 L243.8 333.3 L244.1 332.4 L244.4 331.4 L244.7 330.4 L245.0 329.5 L245.2 328.5 L245.5 327.6 L245.8 326.6 L246.1 325.6 L246.4 324.7 L246.7 323.7 L247.0 322.8 L247.3 321.8 L247.6 320.9 L247.9 319.9 L248.2 319.0 L248.5 318.0 L248.8 317.1 L249.1 316.1 L249.4 315.2 L249.7 314.2 L250.0 313.3 L250.3 312.3 L250.6 311.4 L251.0 310.4 L251.3 309.5 L251.6 308.5 L251.9 307.6 L252.2 306.6 L252.5 305.7 L252.8 304.7 L253.1 303.8 L253.5 302.8 L253.8 301.9 L254.1 300.9 L254.4 300.0 L254.7 299.0 L255.0 298.1 L255.3 297.1 L255.6 296.2 L256.0 295.2 L256.3 294.3 L256.6 293.3 L256.9 292.4 L257.2 291.4 L257.5 290.4 L257.8 289.5 L258.1 288.5 L258.4 287.6 L258.7 286.6 L259.0 285.7 L259.3 284.7 L259.6 283.8 L259.9 282.8 L260.2 281.9 L260.5 280.9 L260.8 280.0 L261.1 279.0 L261.4 278.0 L261.7 277.1 L262.0 276.1 L262.3 275.2 L262.6 274.2 L262.9 273.3 L263.2 272.3 L263.5 271.4 L263.7 270.4 L264.0 269.4 L264.3 268.5 L264.6 267.5 L264.9 266.6 L265.2 265.6 L265.5 264.7 L265.8 263.7 L266.0 262.7 L266.3 261.8 L266.6 260.8 L266.9 259.9 L267.2 258.9 L267.5 257.9 L267.7 257.0 L268.0 256.0 L268.3 255.1 L268.6 254.1 L268.9 253.1 L269.1 252.2 L269.4 251.2 L269.7 250.3 L270.0 249.3 L270.3 248.3 L270.5 247.4 L270.8 246.4 L271.1 245.5 L271.4 244.5 L271.6 243.5 L271.9 242.6 L272.2 241.6 L272.5 240.7 L272.8 239.7 L273.0 238.7 L273.3 237.8 L273.6 236.8 L273.8 235.8 L274.1 234.9 L274.4 233.9 L274.7 233.0 L274.9 232.0 L275.2 231.0 L275.5 230.1 L275.7 229.1 L276.0 228.1 L276.2 227.2 L276.5 226.2 L276.7 225.2 L276.9 224.2 L277.2 223.3 L277.4 222.3 L277.7 221.3 L277.9 220.4 L278.2 219.4 L278.5 218.4 L278.7 217.5 L279.0 216.5 L279.3 215.6 L279.5 214.6 L279.8 213.6 L280.1 212.7 L280.3 211.7 L280.6 210.7 L280.8 209.8 L281.1 208.8 L281.4 207.8 L281.6 206.9 L281.9 205.9 L282.1 204.9 L282.4 204.0 L282.6 203.0 L282.9 202.0 L283.1 201.1 L283.4 200.1 L283.6 199.1 L283.8 198.1 L284.1 197.2 L284.3 196.2 L284.5 195.2 L284.7 194.3 L285.0 193.3 L285.2 192.3 L285.4 191.3 L285.6 190.4 L285.8 189.4 L286.1 188.4 L286.3 187.4 L286.5 186.4 L286.7 185.5 L286.9 184.5 L287.1 183.5 L287.4 182.5 L287.6 181.6 L287.8 180.6 L288.0 179.6 L288.2 178.6 L288.4 177.7 L288.7 176.7 L288.9 175.7 L289.1 174.7 L289.3 173.8 L289.5 172.8 L289.8 171.8 L290.0 170.8 L290.2 169.9 L290.5 168.9 L290.7 167.9 L290.9 167.0 L291.2 166.0 L291.4 165.0 L291.7 164.0 L291.9 163.1 L292.2 162.1 L292.5 161.1 L292.7 160.2 L293.0 159.2 L293.3 158.3 L293.6 157.3 L293.8 156.3 L294.1 155.4 L294.4 154.4 L294.7 153.5 L295.0 152.5 L295.3 151.6 L295.6 150.6 L295.9 149.6 L296.1 148.7 L296.4 147.7 L296.7 146.8 L297.0 145.8 L297.2 144.8 L297.5 143.9 L297.8 142.9 L298.0 141.9 L298.3 141.0 L298.5 140.0 L298.8 139.0 L299.0 138.1 L299.2 137.1 L299.5 136.1 L299.7 135.1 L300.0 134.2 L300.2 133.2 L300.5 132.2 L300.7 131.3 L301.0 130.3 L301.2 129.3 L301.5 128.4 L301.8 127.4 L302.1 126.5 L302.3 125.5 L302.6 124.5 L302.9 123.6 L303.1 122.6 L303.4 121.6 L303.7 120.7 L304.0 119.7 L304.2 118.8 L304.5 117.8 L304.8 116.8 L305.1 115.9 L305.3 114.9 L305.6 113.9 L305.9 113.0 L306.1 112.0 L306.4 111.1 L306.7 110.1 L306.9 109.1 L307.2 108.2 L307.5 107.2 L307.7 106.2 L308.0 105.3 L308.3 104.3 L308.6 103.4 L308.9 102.4 L309.1 101.4 L309.4 100.5 L309.7 99.5 L310.0 98.6 L310.3 97.6 L310.6 96.7 L311.0 95.7 L311.3 94.8 L311.6 93.8 L311.9 92.9 L312.2 91.9 L312.6 91.0 L312.9 90.0 L313.2 89.1 L313.6 88.2 L313.9 87.2 L314.2 86.3 L314.6 85.3 L314.9 84.4 L315.3 83.5 L315.6 82.5 L316.0 81.6 L316.3 80.7 L316.7 79.7 L317.1 78.8 L317.5 77.9 L317.9 77.0 L318.3 76.1 L318.8 75.2 L319.3 74.3 L319.7 73.4 L320.3 72.6 L320.8 71.7 L321.3 70.9 L321.9 70.1 L322.5 69.2 L323.1 68.4 L323.7 67.6 L324.3 66.8 L324.9 66.1 L325.5 65.3 L326.2 64.5 L326.8 63.7 L327.4 63.0 L328.1 62.2 L328.7 61.4 L329.3 60.6 L329.9 59.9 L330.5 59.0 L331.1 58.2 L331.7 57.4 L332.3 56.6 L332.9 55.8 L333.5 55.1 L334.2 54.3 L334.9 53.6 L335.6 52.9 L336.4 52.3 L337.2 51.7 L338.1 51.4 L339.0 51.2 L340.0 51.3 L340.9 51.6 L341.8 52.0 L342.6 52.5 L343.5 53.0 L344.3 53.6 L345.1 54.2 L345.8 54.9 L346.5 55.6 L347.2 56.3 L347.8 57.1 L348.3 57.9 L348.8 58.8 L349.1 59.8 L349.5 60.7 L349.8 61.6 L350.1 62.6 L350.5 63.5 L350.8 64.5 L351.2 65.4 L351.6 66.3 L351.9 67.3 L352.3 68.2 L352.7 69.1 L353.0 70.0 L353.4 71.0 L353.8 71.9 L354.2 72.8 L354.5 73.7 L354.9 74.7 L355.3 75.6 L355.7 76.5 L356.1 77.4 L356.5 78.4 L356.8 79.3 L357.2 80.2 L357.6 81.1 L358.0 82.1 L358.3 83.0 L358.7 83.9 L359.1 84.9 L359.4 85.8 L359.8 86.7 L360.2 87.7 L360.5 88.6 L360.9 89.5 L361.2 90.5 L361.5 91.4 L361.9 92.3 L362.2 93.3 L362.5 94.3 L362.8 95.2 L363.0 96.2 L363.3 97.1 L363.5 98.1 L363.7 99.1 L364.0 100.1 L364.2 101.0 L364.4 102.0 L364.6 103.0 L364.8 104.0 L364.9 105.0 L365.1 105.9 L365.3 106.9 L365.5 107.9 L365.8 108.9 L366.0 109.9 L366.2 110.8 L366.5 111.8 L366.7 112.8 L367.0 113.7 L367.2 114.7 L367.5 115.7 L367.8 116.6 L368.1 117.6 L368.4 118.5 L368.8 119.5 L369.1 120.4 L369.4 121.4 L369.7 122.3 L370.1 123.2 L370.5 124.2 L370.9 125.1 L371.3 126.0 L371.8 126.8 L372.3 127.7 L372.8 128.6 L373.4 129.4 L374.0 130.2 L374.5 131.0 L375.1 131.8 L375.7 132.6 L376.3 133.4 L376.9 134.2 L377.5 135.0 L378.1 135.8 L378.7 136.7 L379.2 137.5 L379.7 138.4 L380.3 139.2 L380.8 140.1 L381.3 140.9 L381.8 141.8 L382.2 142.7 L382.7 143.6 L383.2 144.4 L383.6 145.3 L384.1 146.2 L384.5 147.1 L384.9 148.0 L385.3 148.9 L385.7 149.9 L386.1 150.8 L386.5 151.7 L386.9 152.6 L387.3 153.6 L387.7 154.5 L388.0 155.4 L388.4 156.3 L388.8 157.2 L389.3 158.2 L389.7 159.1 L390.1 160.0 L390.5 160.9 L390.9 161.8 L391.3 162.7 L391.8 163.6 L392.3 164.4 L392.8 165.3 L393.4 166.1 L393.9 167.0 L394.5 167.8 L395.1 168.6 L395.6 169.4 L396.1 170.3 L396.6 171.2 L397.1 172.0 L397.6 172.9 L398.1 173.8 L398.5 174.7 L399.0 175.6 L399.4 176.5 L399.8 177.4 L400.2 178.3 L400.6 179.2 L401.0 180.1 L401.4 181.0 L401.8 182.0 L402.2 182.9 L402.6 183.8 L403.0 184.7 L403.3 185.7 L403.7 186.6 L404.1 187.5 L404.4 188.5 L404.7 189.4 L405.0 190.4 L405.3 191.3 L405.6 192.3 L405.9 193.2 L406.2 194.2 L406.5 195.2 L406.7 196.1 L407.0 197.1 L407.2 198.1 L407.5 199.0 L407.7 200.0 L408.0 201.0 L408.3 201.9 L408.5 202.9 L408.8 203.8 L409.1 204.8 L409.4 205.8 L409.7 206.7 L410.0 207.7 L410.3 208.6 L410.6 209.6 L411.0 210.5 L411.3 211.5 L411.6 212.4 L411.9 213.4 L412.2 214.3 L412.5 215.3 L412.8 216.2 L413.1 217.2 L413.4 218.1 L413.7 219.1 L413.9 220.1 L414.1 221.0 L414.4 222.0 L414.6 223.0 L414.9 223.9 L415.1 224.9 L415.4 225.9 L415.7 226.8 L416.0 227.8 L416.4 228.7 L416.8 229.6 L417.3 230.5 L417.7 231.4 L418.2 232.2 L418.8 233.1 L419.3 233.9 L419.9 234.8 L420.4 235.6 L421.0 236.4 L421.5 237.3 L422.0 238.1 L422.5 239.0 L423.0 239.9 L423.5 240.8 L423.9 241.7 L424.3 242.6 L424.7 243.5 L425.0 244.4 L425.4 245.4 L425.8 246.3 L426.1 247.2 L426.5 248.2 L426.8 249.1 L427.1 250.0 L427.5 251.0 L427.8 251.9 L428.1 252.9 L428.5 253.8 L428.9 254.7 L429.2 255.7 L429.6 256.6 L430.1 257.5 L430.5 258.4 L430.9 259.3 L431.4 260.2 L431.9 261.1 L432.3 261.9 L432.8 262.8 L433.2 263.7 L433.7 264.6 L434.1 265.5 L434.5 266.4 L434.9 267.3 L435.3 268.3 L435.7 269.2 L436.1 270.1 L436.4 271.0 L436.8 272.0 L437.2 272.9 L437.6 273.8 L437.9 274.8 L438.3 275.7 L438.7 276.6 L439.1 277.5 L439.5 278.4 L439.9 279.3 L440.3 280.3 L440.7 281.2 L441.2 282.1 L441.6 283.0 L442.0 283.9 L442.4 284.8 L442.8 285.7 L443.2 286.6 L443.6 287.6 L444.0 288.5 L444.4 289.4 L444.8 290.3 L445.2 291.2 L445.6 292.1 L446.0 293.1 L446.4 294.0 L446.8 294.9 L447.1 295.8 L447.5 296.8 L447.9 297.7 L448.3 298.6 L448.7 299.5 L449.1 300.4 L449.4 301.4 L449.8 302.3 L450.2 303.2 L450.6 304.2 L450.9 305.1 L451.3 306.0 L451.6 307.0 L452.0 307.9 L452.4 308.8 L452.7 309.8 L453.1 310.7 L453.5 311.6 L453.9 312.5 L454.3 313.4 L454.7 314.4 L455.1 315.3 L455.5 316.2 L456.0 317.1 L456.4 318.0 L456.9 318.8 L457.3 319.7 L457.8 320.6 L458.3 321.5 L458.7 322.4 L459.2 323.3 L459.7 324.2 L460.1 325.1 L460.6 325.9 L461.0 326.8 L461.4 327.7 L461.9 328.6 L462.3 329.5 L462.7 330.4 L463.2 331.4 L463.6 332.3 L464.0 333.2 L464.4 334.1 L464.9 335.0 L465.3 335.9 L465.8 336.7 L466.3 337.6 L466.8 338.5 L467.3 339.3 L467.8 340.2 L468.4 341.0 L468.9 341.9 L469.5 342.7 L470.1 343.5 L470.7 344.3 L471.3 345.1 L471.9 345.9 L472.5 346.7 L473.1 347.5 L473.7 348.3 L474.3 349.1 L474.9 349.9 L475.4 350.7 L476.0 351.5 L476.6 352.3 L477.2 353.2 L477.8 354.0 L478.3 354.8 L478.9 355.6 L479.5 356.4 L480.1 357.2 L480.7 358.0 L481.3 358.8 L481.9 359.6 L482.6 360.4 L483.2 361.2 L483.8 361.9 L484.4 362.7 L485.1 363.5 L485.7 364.3 L486.3 365.0 L487.0 365.8 L487.7 366.5 L488.4 367.2 L489.1 368.0 L489.8 368.7 L490.5 369.3 L491.3 370.0 L492.0 370.6 L492.8 371.2 L493.6 371.8 L494.4 372.4 L495.2 373.0 L496.1 373.6 L496.9 374.2 L497.7 374.7 L498.6 375.3 L499.4 375.8 L500.2 376.4 L501.1 376.9 L501.9 377.5 L502.7 378.0 L503.6 378.5 L504.4 379.1 L505.3 379.6 L506.1 380.1 L507.0 380.6 L507.9 381.1 L508.7 381.6 L509.6 382.1 L510.5 382.5 L511.4 383.0 L512.3 383.4 L513.2 383.8 L514.1 384.2 L515.1 384.6 L516.0 385.0 L516.9 385.3 L517.9 385.7 L518.8 386.0 L519.7 386.3 L520.7 386.7 L521.6 387.0 L522.6 387.3 L523.5 387.6 L524.5 388.0 L525.4 388.3 L526.4 388.5 L527.3 388.8 L528.3 389.1 L529.3 389.4 L530.2 389.7 L531.2 389.9 L532.1 390.2 L533.1 390.5 L534.1 390.8 L535.0 391.0 L536.0 391.3 L536.9 391.6 L537.9 391.9 L538.9 392.2 L539.8 392.5 L540.8 392.7 L541.8 393.0 L542.7 393.2 L543.7 393.4 L544.7 393.6 L545.7 393.8 L546.7 394.0 L547.6 394.1 L548.6 394.3 L549.6 394.4 L550.6 394.5 L551.6 394.6 L552.6 394.7 L553.6 394.8 L554.6 394.9 L555.6 395.0 L556.6 395.1 L557.6 395.2 L558.6 395.3 L559.6 395.4 L560.6 395.4 L561.6 395.5 L562.6 395.6 L563.6 395.7 L564.6 395.8 L565.6 395.8 L566.6 395.9 L567.6 396.0 L568.6 396.1 L569.5 396.1 L570.5 396.2 L571.5 396.3 L572.5 396.3 L573.5 396.4 L574.5 396.5 L575.5 396.5 L576.5 396.6 L577.5 396.7 L578.5 396.7 L579.5 396.8 L580.5 396.9 L581.5 396.9 L582.4 397.0 L583.0 397.0" stroke="#0000ff" /></g>
<line x1="583.7" y1="7.6" x2="583.7" y2="400.5" stroke="#000" stroke-width="2"/>
<line x1="479" y1="29.5" x2="521.5" y2="29.5" stroke="#000" stroke-width="3" stroke-linecap="round"/><text x="526.5" y="36.5" class="lg">400&#176;<tspan dx="-0.8">C</tspan></text><line x1="479" y1="53.0" x2="521.5" y2="53.0" stroke="#f00" stroke-width="3" stroke-linecap="round"/><text x="526.5" y="60.0" class="lg">500&#176;<tspan dx="-0.8">C</tspan></text><line x1="479" y1="76.5" x2="521.5" y2="76.5" stroke="#0f0" stroke-width="3" stroke-linecap="round"/><text x="526.5" y="83.5" class="lg">600&#176;<tspan dx="-0.8">C</tspan></text><line x1="479" y1="100.0" x2="521.5" y2="100.0" stroke="#00f" stroke-width="3" stroke-linecap="round"/><text x="526.5" y="107.0" class="lg">650&#176;<tspan dx="-0.8">C</tspan></text>
<text x="59" y="37" class="tt" font-size="33">(a)</text>
<text x="113.5" y="32.2" class="tt" font-size="19">Ex-808-Yb/Tm</text>
<text x="306" y="442.5" class="tt" font-size="18.7" text-anchor="middle">Wavelength(nm)</text>
<text transform="translate(16,204) rotate(-90)" class="tt" font-size="18.5" text-anchor="middle">Intensity (a.u.)</text>
</svg>
</body></html>
